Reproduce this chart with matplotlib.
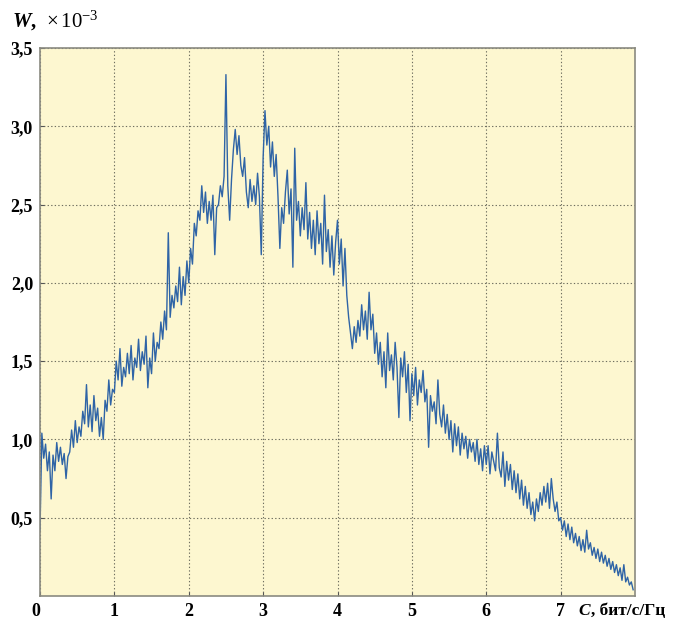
import numpy as np
import matplotlib
matplotlib.use("Agg")
import matplotlib.pyplot as plt

W = [
    0.42, 1.04, 0.88, 0.97, 0.80, 0.92, 0.62, 0.90,
    0.80, 0.98, 0.86, 0.95, 0.84, 0.91, 0.75, 0.89,
    0.92, 1.06, 0.95, 1.12, 0.98, 1.08, 1.02, 1.18,
    1.10, 1.35, 1.08, 1.22, 1.05, 1.28, 1.12, 1.20,
    1.02, 1.14, 1.00, 1.25, 1.18, 1.38, 1.22, 1.32,
    1.30, 1.50, 1.38, 1.58, 1.34, 1.46, 1.40, 1.55,
    1.42, 1.60, 1.38, 1.52, 1.46, 1.64, 1.44, 1.56,
    1.48, 1.66, 1.33, 1.52, 1.42, 1.68, 1.50, 1.62,
    1.58, 1.75, 1.64, 1.82, 1.70, 2.32, 1.78, 1.92,
    1.84, 1.98, 1.88, 2.10, 1.86, 2.04, 1.92, 2.14,
    2.00, 2.22, 2.12, 2.38, 2.30, 2.46, 2.40, 2.62,
    2.45, 2.58, 2.38, 2.52, 2.40, 2.56, 2.18, 2.48,
    2.50, 2.62, 2.55, 2.68, 3.33, 2.62, 2.40, 2.66,
    2.85, 2.98, 2.82, 2.94, 2.75, 2.68, 2.80, 2.58,
    2.48, 2.66, 2.52, 2.62, 2.50, 2.70, 2.55, 2.18,
    2.80, 3.10, 2.88, 3.00, 2.74, 2.90, 2.68, 2.82,
    2.55, 2.22, 2.48, 2.38, 2.58, 2.72, 2.44, 2.60,
    2.10, 2.86, 2.40, 2.52, 2.30, 2.48, 2.34, 2.64,
    2.28, 2.45, 2.22, 2.40, 2.18, 2.46, 2.25, 2.38,
    2.12, 2.56, 2.20, 2.34, 2.10, 2.30, 2.05, 2.26,
    2.40, 2.12, 2.28, 1.98, 2.22, 1.92, 1.78, 1.68,
    1.58, 1.72, 1.62, 1.76, 1.66, 1.86, 1.70, 1.82,
    1.64, 1.94, 1.70, 1.80, 1.55, 1.68, 1.48, 1.62,
    1.40, 1.56, 1.33, 1.68, 1.44, 1.54, 1.38, 1.62,
    1.46, 1.14, 1.52, 1.40, 1.56, 1.30, 1.48, 1.12,
    1.42, 1.28, 1.46, 1.22, 1.38, 1.30, 1.44, 1.24,
    1.32, 0.95, 1.28, 1.18, 1.24, 1.10, 1.38, 1.16,
    1.08, 1.22, 1.04, 1.16, 1.00, 1.12, 0.92, 1.10,
    0.96, 1.08, 0.90, 1.04, 0.94, 1.02, 0.88, 1.00,
    0.92, 0.98, 0.86, 1.00, 0.84, 0.94, 0.80, 0.96,
    0.84, 0.96, 0.78, 0.92, 0.86, 0.80, 1.04, 0.82,
    0.76, 0.92, 0.70, 0.86, 0.74, 0.84, 0.68, 0.80,
    0.66, 0.78, 0.62, 0.74, 0.58, 0.70, 0.56, 0.66,
    0.52, 0.60, 0.48, 0.62, 0.54, 0.66, 0.58, 0.70,
    0.60, 0.72, 0.56, 0.75, 0.62, 0.54, 0.60, 0.48,
    0.50, 0.42, 0.48, 0.38, 0.46, 0.36, 0.44, 0.34,
    0.40, 0.32, 0.38, 0.29, 0.36, 0.28, 0.42, 0.30,
    0.34, 0.26, 0.31, 0.24, 0.30, 0.22, 0.28, 0.21,
    0.26, 0.19, 0.24, 0.17, 0.22, 0.15, 0.20, 0.13,
    0.18, 0.10, 0.20, 0.09, 0.12, 0.07, 0.09, 0.04,
]
C_STEP = 0.025
C = np.arange(len(W)) * C_STEP

x_ticks = [0, 1, 2, 3, 4, 5, 6, 7]
y_ticks = [0.5, 1.0, 1.5, 2.0, 2.5, 3.0, 3.5]
y_labels = ["0,5", "1,0", "1,5", "2,0", "2,5", "3,0", "3,5"]

plt.rcParams['font.family'] = ['Liberation Serif', 'DejaVu Serif']
plt.rcParams['mathtext.fontset'] = 'custom'
plt.rcParams['mathtext.rm'] = 'Liberation Serif'
plt.rcParams['mathtext.it'] = 'Liberation Serif:italic:bold'
plt.rcParams['mathtext.bf'] = 'Liberation Serif:bold'

fig = plt.figure(figsize=(6.76, 6.2), dpi=100)
ax = fig.add_axes([40 / 676, 1 - 596 / 620, 595 / 676, 548 / 620])
ax.set_facecolor('#fdf7d0')

ax.plot(C, W, color='#2f64a6', lw=1.0)

ax.set_xlim(0, 8)
ax.set_ylim(0, 3.5)
ax.set_xticks(x_ticks)
ax.set_xticklabels([str(t) for t in x_ticks], fontsize=13, fontweight='bold')
ax.set_yticks(y_ticks)
ax.set_yticklabels(y_labels, fontsize=13, fontweight='bold')
ax.tick_params(direction='in', length=3, color='#555555', pad=5)
# the "0" under the corner sits a little left of the axis
ax.get_xticklabels()[0].set_horizontalalignment('right')

ax.grid(True, color='#6f6f60', lw=0.8, linestyle=(0, (1.2, 2.0)))
for s in ax.spines.values():
    s.set_color('#8a8a80')
    s.set_linewidth(1.2)

# axis captions
fig.text(12 / 676, 1 - 27 / 620, r'$W$,  $\times\,10^{-3}$', fontsize=15,
         fontweight='bold', ha='left', va='baseline')
ax.annotate('C', xy=(7.24, 0), xycoords=('data', 'axes fraction'),
            xytext=(0, -5), textcoords='offset points', ha='left', va='top',
            fontsize=12.5, fontweight='bold', fontstyle='italic',
            annotation_clip=False)
ax.annotate(', бит/с/Гц', xy=(7.24, 0), xycoords=('data', 'axes fraction'),
            xytext=(9, -5), textcoords='offset points', ha='left', va='top',
            fontsize=12.5, fontweight='bold', annotation_clip=False)

fig.savefig('out.png', dpi=100, facecolor='white')
